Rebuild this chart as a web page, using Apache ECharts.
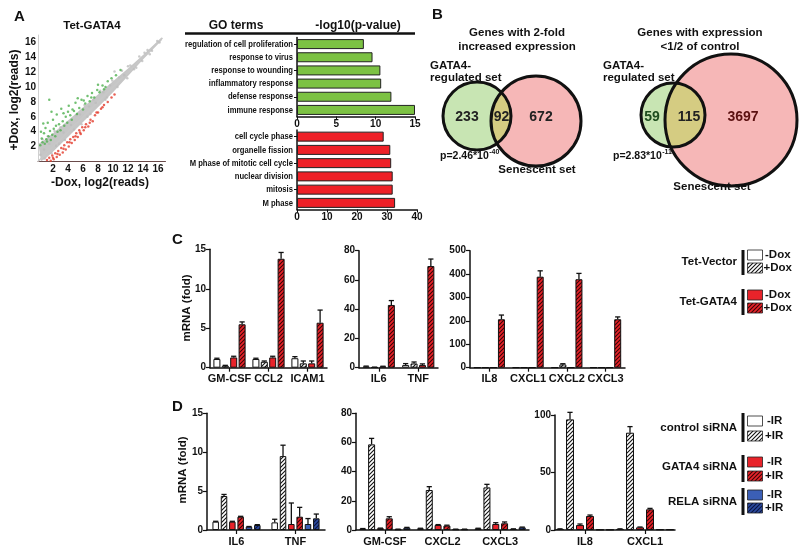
<!DOCTYPE html>
<html><head><meta charset="utf-8">
<script src="https://cdn.jsdelivr.net/npm/echarts@6/dist/echarts.min.js"></script>
<style>html,body{margin:0;padding:0;background:#fff}#c{width:800px;height:557px}</style>
</head><body><div id="c"></div>
<script>
// ---------- DATA ----------
// Panel A scatter (log2 reads): -Dox (x), +Dox (y)
const bandUpper = [[0.05,2.4],[1,3.0],[2,3.8],[4,5.5],[6,7.3],[8,9.0],[10,10.8],[12,12.5],[14,14.3],[16.5,16.7]];
const bandLower = [[16.5,16.3],[14,13.7],[12,11.5],[10,9.3],[8,7.3],[6,5.3],[4,3.3],[2,1.3],[1,0.4],[0.4,0.05]];
const diagLine = [[0,0],[16.6,16.6]];
const grayPts = [[0.3,0.9],[0.8,1.6],[1.5,2.4],[2.4,2.1],[3.4,3.9],[4.4,4.9],[5.6,6.3],[6.8,7.4],[7.7,7.9],[8.7,9.3],[9.6,10.2],[10.8,11.3],[11.5,11.6],[12.3,12.9],[12.8,12.4],[13.5,14.1],[13.9,13.5],[14.6,15.0],[15.2,14.9],[15.9,16.2],[10.2,12.1],[11.9,11.2],[9.2,8.6],[0.6,3.0],[1.3,3.4],[2.2,4.1],[3.0,4.6],[3.6,2.9],[4.8,4.3],[5.1,6.2],[6.2,7.6],[7.0,6.4],[7.4,8.3],[8.3,9.5],[9.0,8.3],[9.9,10.9],[10.6,10.0],[11.2,12.2],[12.0,12.8],[13.1,12.6],[14.2,14.6],[14.9,14.4],[16.2,16.0],[2.8,2.4],[1.8,1.1],[0.9,0.4],[5.8,5.0],[6.6,6.0]];
const greenPts = [[0.3,2.2],[0.5,3.1],[0.6,2.6],[0.8,3.8],[0.9,2.4],[1.0,4.5],[1.1,3.0],[1.2,2.7],[1.3,5.2],[1.4,3.4],[1.5,8.3],[1.6,4.1],[1.7,2.9],[1.9,3.6],[2.0,5.6],[2.1,4.4],[2.3,3.4],[2.5,6.3],[2.6,4.0],[2.8,5.0],[3.0,4.2],[3.1,7.1],[3.3,5.4],[3.5,4.8],[3.7,6.0],[3.9,5.2],[4.1,7.5],[4.3,6.2],[4.5,5.6],[4.8,6.8],[5.0,7.9],[5.2,6.4],[5.5,7.2],[5.8,8.3],[6.0,7.0],[6.3,7.8],[6.6,8.8],[6.9,8.1],[7.2,9.2],[7.5,8.6],[7.9,9.6],[8.2,9.3],[8.6,10.2],[9.0,10.0],[9.3,10.8],[9.8,11.2],[10.4,11.6],[11.0,12.3],[0.4,4.0],[0.7,5.1],[1.8,6.7],[2.4,4.8],[3.4,6.5],[4.0,6.7],[4.6,7.0],[5.3,8.5],[6.1,8.2],[7.1,8.6],[8.0,10.3],[8.8,9.7]];
const redPts = [[1.2,0.2],[1.5,0.5],[1.7,0.1],[1.9,0.8],[2.1,0.3],[2.3,1.1],[2.5,0.6],[2.7,1.4],[2.9,0.9],[3.1,1.8],[3.3,1.2],[3.5,2.2],[3.7,1.6],[3.9,2.6],[4.1,2.0],[4.3,3.0],[4.5,2.5],[4.7,3.3],[4.9,2.9],[5.1,3.8],[5.3,3.3],[5.5,4.2],[5.7,3.7],[5.9,4.6],[6.1,4.2],[6.4,5.0],[6.7,4.7],[7.0,5.6],[7.3,5.4],[7.6,6.2],[8.0,6.6],[8.4,7.1],[8.8,7.6],[9.3,8.0],[9.8,8.6],[10.2,9.0],[2.0,0.5],[2.6,1.0],[3.4,1.7],[4.2,2.6],[5.0,3.4],[5.6,3.9],[6.3,4.6],[6.9,5.2],[7.8,6.6],[8.6,7.3]];
const scatterTicks = [2,4,6,8,10,12,14,16];

// Panel A GO terms
const goUpTerms = ['regulation of cell proliferation','response to virus','response to wounding','inflammatory response','defense response','immune response'];
const goUpVals = [8.5,9.6,10.6,10.7,12.0,15.0];
const goDownTerms = ['cell cycle phase','organelle fission','M phase of mitotic cell cycle','nuclear division','mitosis','M phase'];
const goDownVals = [28.9,31.1,31.4,31.9,31.9,32.7];

// Panel B Venn counts
const venn1Counts = [233, 92, 672];
const venn1P = ['p=2.46*10', '-40'];
const venn2Counts = [59, 115, 3697];
const venn2P = ['p=2.83*10', '-11'];

// Panel C: conditions = Tet-Vector -Dox, Tet-Vector +Dox, Tet-GATA4 -Dox, Tet-GATA4 +Dox
const c1Cats = ['GM-CSF','CCL2','ICAM1'];
const c1Vals = [[1.1,1.1,1.2],[0.25,0.75,0.55],[1.3,1.3,0.55],[5.5,13.8,5.7]];
const c1Errs = [[0.1,0.1,0.2],[0.05,0.1,0.3],[0.15,0.15,0.3],[0.3,0.8,1.6]];
const c2Cats = ['IL6','TNF'];
const c2Vals = [[0.8,1.8],[0.3,2.9],[0.8,1.8],[42.9,69.5]];
const c2Errs = [[0.3,1.0],[0.1,1.0],[0.2,0.8],[3.0,4.8]];
const c3Cats = ['IL8','CXCL1','CXCL2','CXCL3'];
const c3Vals = [[1,1,1,1],[1,1,14,1],[1,1,1,1],[207,389,378,207]];
const c3Errs = [[0,0,0,0],[0,0,3,0],[0,0,0,0],[18,25,25,10]];

// Panel D: control siRNA -IR/+IR, GATA4 siRNA -IR/+IR, RELA siRNA -IR/+IR
const d1Cats = ['IL6','TNF'];
const d1Vals = [[1.07,0.98],[4.37,9.5],[1.07,0.77],[1.71,1.71],[0.43,0.77],[0.64,1.5]];
const d1Errs = [[0.05,0.4],[0.2,1.4],[0.05,2.7],[0.05,1.2],[0.02,0.7],[0.05,0.55]];
const d2Cats = ['GM-CSF','CXCL2','CXCL3'];
const d2Vals = [[0.9,1.1,1.1],[58.7,27.4,29.2],[1.2,3.4,4.1],[8.0,3.0,4.6],[0.5,0.5,0.7],[1.6,0.5,1.8]];
const d2Errs = [[0.1,0.1,0.1],[4.1,2.3,2.1],[0.1,0.3,0.9],[1.1,0.3,0.9],[0.1,0.1,0.1],[0.2,0.1,0.2]];
const d3Cats = ['IL8','CXCL1'];
const d3Vals = [[0.9,0.9],[96.2,84.6],[4.3,2.3],[12.2,18.0],[0.4,0.6],[0.4,0.6]];
const d3Errs = [[0.1,0.1],[6.1,5.3],[0.9,0.3],[0.8,0.8],[0,0],[0,0]];

// ---------- STYLE HELPERS ----------
const FONT = '"Liberation Sans", Arial, sans-serif';
const measureCtx = document.createElement('canvas').getContext('2d');
function textW(t, font){ measureCtx.font = font; return measureCtx.measureText(t).width; }
function hatch(bg, fg){
  const c = document.createElement('canvas'); c.width = 4; c.height = 4;
  const g = c.getContext('2d'); g.fillStyle = bg; g.fillRect(0,0,4,4);
  g.strokeStyle = fg; g.lineWidth = 1.1; g.beginPath();
  g.moveTo(0,4); g.lineTo(4,0); g.moveTo(-1,1); g.lineTo(1,-1); g.moveTo(3,5); g.lineTo(5,3); g.stroke();
  return {image: c, repeat: 'repeat'};
}
const RED = '#e8232a', BLUE = '#3b5fb6';
const fills = {
  white: '#ffffff', whiteH: hatch('#ffffff','#111111'),
  red: RED, redH: hatch(RED,'#3a0505'),
  blue: BLUE, blueH: hatch('#2c4a9e','#0a1540')
};

const grids = [
  {left:38, top:35, width:127.5, height:126.5},   // 0 scatter
  {left:297, top:37.5, width:118, height:79},     // 1 GO up
  {left:297, top:130, width:120, height:79.5},    // 2 GO down
  {left:210, top:249.3, width:117, height:118.4}, // 3 C1
  {left:359, top:250.7, width:79, height:117},    // 4 C2
  {left:470, top:250.7, width:155, height:117},   // 5 C3
  {left:207, top:413.3, width:118, height:116.7}, // 6 D1
  {left:356, top:413.3, width:173, height:116.7}, // 7 D2
  {left:555, top:415, width:120, height:115}      // 8 D3
];
const xAxes = [], yAxes = [], series = [];
const tickLbl = {color:'#111', fontFamily:FONT, fontWeight:'bold', fontSize:10};

// Scatter axes
xAxes.push({gridIndex:0, type:'value', min:0, max:17, interval:2, splitLine:{show:false},
  axisLine:{lineStyle:{color:'#6a4a4a', width:1}}, axisTick:{show:false},
  axisLabel:Object.assign({}, tickLbl, {margin:3, formatter: v => scatterTicks.indexOf(v) >= 0 ? v : ''})});
yAxes.push({gridIndex:0, type:'value', min:0, max:17, interval:2, splitLine:{show:false},
  axisLine:{show:true, lineStyle:{color:'#d0d0d0', width:1}}, axisTick:{show:false},
  axisLabel:Object.assign({}, tickLbl, {margin:2, formatter: v => scatterTicks.indexOf(v) >= 0 ? v : ''})});
series.push({type:'custom', xAxisIndex:0, yAxisIndex:0, data:[[0,0]], silent:true, z:1,
  renderItem:(p, api) => {
    const pts = bandUpper.concat(bandLower).map(d => api.coord(d));
    return {type:'polygon', shape:{points:pts}, style:{fill:'#c6c6c6'}};
  }});
series.push({type:'line', xAxisIndex:0, yAxisIndex:0, data:diagLine, symbol:'none', silent:true, z:2,
  lineStyle:{color:'#c8c8c8', width:1.5}});
series.push({type:'scatter', xAxisIndex:0, yAxisIndex:0, data:grayPts, symbolSize:2.5, itemStyle:{color:'#bdbdbd'}, silent:true, z:3});
series.push({type:'scatter', xAxisIndex:0, yAxisIndex:0, data:greenPts, symbolSize:2.5, itemStyle:{color:'#4fb04f'}, silent:true, z:3});
series.push({type:'scatter', xAxisIndex:0, yAxisIndex:0, data:redPts, symbolSize:2.5, itemStyle:{color:'#e23b2c'}, silent:true, z:3});

// GO axes
const GO_FONT = 'bold 9.5px ' + FONT;
const goScale = 108 / textW('regulation of cell proliferation', GO_FONT);
function goAxes(gi, terms, vals, max, interval, color){
  xAxes.push({gridIndex:gi, type:'value', min:0, max:max, interval:interval, splitLine:{show:false},
    axisLine:{show:true, lineStyle:{color:'#111', width:1.5}}, axisTick:{show:true, length:3, lineStyle:{color:'#111'}},
    axisLabel:Object.assign({}, tickLbl, {margin:3})});
  yAxes.push({gridIndex:gi, type:'category', data:terms, inverse:true,
    axisLine:{show:true, lineStyle:{color:'#111', width:1.5}}, axisTick:{show:true, length:3, alignWithLabel:true, lineStyle:{color:'#111'}},
    axisLabel:{show:false}});
  series.push({type:'bar', xAxisIndex:gi, yAxisIndex:gi, data:vals, barWidth:10, silent:true,
    itemStyle:{color:color, borderColor:'#222', borderWidth:1}});
  // term labels, horizontally condensed like the original
  series.push({type:'custom', xAxisIndex:gi, yAxisIndex:gi, silent:true, z:6,
    data:terms.map((t, i) => [0, i]), encode:{x:0, y:1},
    renderItem:(p, api) => {
      const c = api.coord([0, api.value(1)]);
      return {type:'text', x:c[0] - 4, y:c[1], scaleX:goScale, scaleY:1,
        style:{text:terms[p.dataIndex], font:GO_FONT, fill:'#111', textAlign:'right', textVerticalAlign:'middle'}};
    }});
}
goAxes(1, goUpTerms, goUpVals, 15, 5, '#7cc243');
goAxes(2, goDownTerms, goDownVals, 40, 10, '#ee2027');

// bar panels
function barPanel(gi, cats, vals, errs, keys, max, interval, bw, gapPct){
  xAxes.push({gridIndex:gi, type:'category', data:cats,
    axisLine:{show:true, lineStyle:{color:'#111', width:1.5}},
    axisTick:{show:true, alignWithLabel:true, length:4, lineStyle:{color:'#111', width:1.2}},
    axisLabel:{color:'#111', fontFamily:FONT, fontWeight:'bold', fontSize:11, margin:6, interval:0}});
  yAxes.push({gridIndex:gi, type:'value', min:0, max:max, interval:interval, splitLine:{show:false},
    axisLine:{show:true, lineStyle:{color:'#111', width:1.5}},
    axisTick:{show:true, length:4, lineStyle:{color:'#111', width:1.2}},
    axisLabel:Object.assign({}, tickLbl, {margin:4})});
  const n = vals.length;
  vals.forEach((arr, k) => series.push({type:'bar', xAxisIndex:gi, yAxisIndex:gi, data:arr,
    barWidth:bw, barGap:gapPct + '%', silent:true,
    itemStyle:{color:fills[keys[k]], borderColor:'#111', borderWidth:1}}));
  const errData = [];
  errs.forEach((arr, k) => arr.forEach((e, i) => { if (e > 0) errData.push([i, vals[k][i], e, k]); }));
  const step = bw * (1 + gapPct/100);
  series.push({type:'custom', xAxisIndex:gi, yAxisIndex:gi, data:errData, encode:{x:0, y:1}, silent:true, z:5,
    renderItem:(p, api) => {
      const i = api.value(0), v = api.value(1), e = api.value(2), k = api.value(3);
      const b = api.coord([i, v]), t = api.coord([i, v + e]);
      const x = b[0] + (k - (n-1)/2) * step;
      const st = {stroke:'#111', lineWidth:1.3};
      return {type:'group', children:[
        {type:'line', shape:{x1:x, y1:b[1], x2:x, y2:t[1]}, style:st},
        {type:'line', shape:{x1:x-2.6, y1:t[1], x2:x+2.6, y2:t[1]}, style:st}
      ]};
    }});
}
const cKeys = ['white','whiteH','red','redH'];
const dKeys = ['white','whiteH','red','redH','blue','blueH'];
barPanel(3, c1Cats, c1Vals, c1Errs, cKeys, 15, 5, 7, 20);
barPanel(4, c2Cats, c2Vals, c2Errs, cKeys, 80, 20, 7, 20);
barPanel(5, c3Cats, c3Vals, c3Errs, cKeys, 500, 100, 7, 15);
barPanel(6, d1Cats, d1Vals, d1Errs, dKeys, 15, 5, 6.5, 28);
barPanel(7, d2Cats, d2Vals, d2Errs, dKeys, 80, 20, 7, 26);
barPanel(8, d3Cats, d3Vals, d3Errs, dKeys, 100, 50, 8, 25);

// ---------- GRAPHIC (labels, Venn, legends) ----------
const G = [];
function txt(x, y, text, size, opts){
  opts = opts || {};
  G.push({type:'text', x:x, y:y, rotation:opts.rot || 0, z:10, style:{text:text, fill:opts.fill || '#111',
    font:(opts.weight || 'bold') + ' ' + size + 'px ' + (opts.family || FONT),
    textAlign:opts.align || 'left', textVerticalAlign:opts.valign || 'middle'}});
}
txt(14, 17, 'A', 15);
txt(432, 15, 'B', 15);
txt(172, 240, 'C', 15);
txt(172, 407, 'D', 15);
txt(92, 26, 'Tet-GATA4', 11.5, {align:'center'});
txt(15, 100, '+Dox, log2(reads)', 12, {align:'center', rot:Math.PI/2});
txt(100, 183, '-Dox, log2(reads)', 12, {align:'center'});
txt(236, 26, 'GO terms', 12, {align:'center'});
txt(358, 26, '-log10(p-value)', 12, {align:'center'});
G.push({type:'line', shape:{x1:185, y1:33.5, x2:415, y2:33.5}, style:{stroke:'#111', lineWidth:2.5}});
txt(187, 308, 'mRNA (fold)', 11.5, {align:'center', rot:Math.PI/2});
txt(183, 470, 'mRNA (fold)', 11.5, {align:'center', rot:Math.PI/2});

// Venn diagrams
function arcPts(cx, cy, r, a0, a1, n){
  const out = [];
  for (let i = 0; i <= n; i++){ const a = a0 + (a1 - a0) * i / n; out.push([cx + r*Math.cos(a), cy + r*Math.sin(a)]); }
  return out;
}
function venn(c1, c2, counts, cx3, pText, pxy, titles, tx, gataXY, senXY){
  const dx = c2[0]-c1[0], dy = c2[1]-c1[1], d = Math.hypot(dx, dy);
  const a = (c1[2]*c1[2] - c2[2]*c2[2] + d*d) / (2*d);
  const h = Math.sqrt(c1[2]*c1[2] - a*a);
  const mx = c1[0] + a*dx/d, my = c1[1] + a*dy/d;
  const P = [mx + h*dy/d, my - h*dx/d], Q = [mx - h*dy/d, my + h*dx/d];
  const top = P[1] < Q[1] ? P : Q, bot = P[1] < Q[1] ? Q : P;
  let s1 = Math.atan2(top[1]-c1[1], top[0]-c1[0]), e1 = Math.atan2(bot[1]-c1[1], bot[0]-c1[0]);
  while (e1 < s1) e1 += 2*Math.PI;
  let s2 = Math.atan2(bot[1]-c2[1], bot[0]-c2[0]), e2 = Math.atan2(top[1]-c2[1], top[0]-c2[0]);
  while (e2 < s2) e2 += 2*Math.PI;
  const lens = arcPts(c1[0], c1[1], c1[2], s1, e1, 60).concat(arcPts(c2[0], c2[1], c2[2], s2, e2, 60));
  G.push({type:'circle', shape:{cx:c1[0], cy:c1[1], r:c1[2]}, style:{fill:'#c8e5b3'}, z:1});
  G.push({type:'circle', shape:{cx:c2[0], cy:c2[1], r:c2[2]}, style:{fill:'#f6b7b7'}, z:1});
  G.push({type:'polygon', shape:{points:lens}, style:{fill:'#d5cc82'}, z:2});
  G.push({type:'circle', shape:{cx:c1[0], cy:c1[1], r:c1[2]}, style:{fill:'none', stroke:'#111', lineWidth:3}, z:3});
  G.push({type:'circle', shape:{cx:c2[0], cy:c2[1], r:c2[2]}, style:{fill:'none', stroke:'#111', lineWidth:3}, z:3});
  counts.forEach((v, i) => txt(cx3[i], 117, String(v), 14, {align:'center', fill: i === 0 && counts[0] < 100 ? '#1d4d1d' : (i === 2 && counts[2] > 1000 ? '#5a1010' : '#222')}));
  txt(tx, 33, titles[0], 11.5, {align:'center'});
  txt(tx, 47, titles[1], 11.5, {align:'center'});
  txt(gataXY[0], 66, 'GATA4-', 11.5);
  txt(gataXY[0], 78, 'regulated set', 11.5);
  txt(pxy[0], pxy[1], pText[0], 10.5);
  const w = textW(pText[0], 'bold 10.5px ' + FONT);
  txt(pxy[0] + w + 0.5, pxy[1] - 4, pText[1], 7);
  txt(senXY[0], senXY[1], 'Senescent set', 11.5, {align:'center'});
}
venn([477,116,34],[536,121,45], venn1Counts, [467,501.5,541], venn1P, [440,156],
     ['Genes with 2-fold','increased expression'], 517, [430,66], [537,170]);
venn([673,115,32],[731,120,66], venn2Counts, [652,689,743], venn2P, [613,156],
     ['Genes with expression','<1/2 of control'], 700, [603,66], [712,187]);

// Legends
function legendGroup(label, labelY, barY1, barY2, boxes){
  txt(737, labelY, label, 11.5, {align:'right'});
  G.push({type:'rect', shape:{x:741.5, y:barY1, width:3, height:barY2-barY1}, style:{fill:'#111'}});
  boxes.forEach(b => {
    G.push({type:'rect', shape:{x:747.5, y:b[0], width:15, height:10}, style:{fill:fills[b[1]], stroke:'#222', lineWidth:0.8}});
    txt(b[3], b[0]+4.5, b[2], 11.5);
  });
}
legendGroup('Tet-Vector', 262, 250, 275, [[250,'white','-Dox',765],[263,'whiteH','+Dox',763.5]]);
legendGroup('Tet-GATA4', 302, 289, 315, [[290,'red','-Dox',765],[303,'redH','+Dox',763.5]]);
legendGroup('control siRNA', 428, 413, 442, [[416,'white','-IR',767],[431,'whiteH','+IR',765]]);
legendGroup('GATA4 siRNA', 467, 455, 482, [[457,'red','-IR',767],[471,'redH','+IR',765]]);
legendGroup('RELA siRNA', 502, 488, 515, [[490,'blue','-IR',767],[503,'blueH','+IR',765]]);

const chart = echarts.init(document.getElementById('c'), null, {renderer:'canvas'});
chart.setOption({
  animation:false, backgroundColor:'#fff',
  grid:grids, xAxis:xAxes, yAxis:yAxes, series:series, graphic:G
});
</script></body></html>
